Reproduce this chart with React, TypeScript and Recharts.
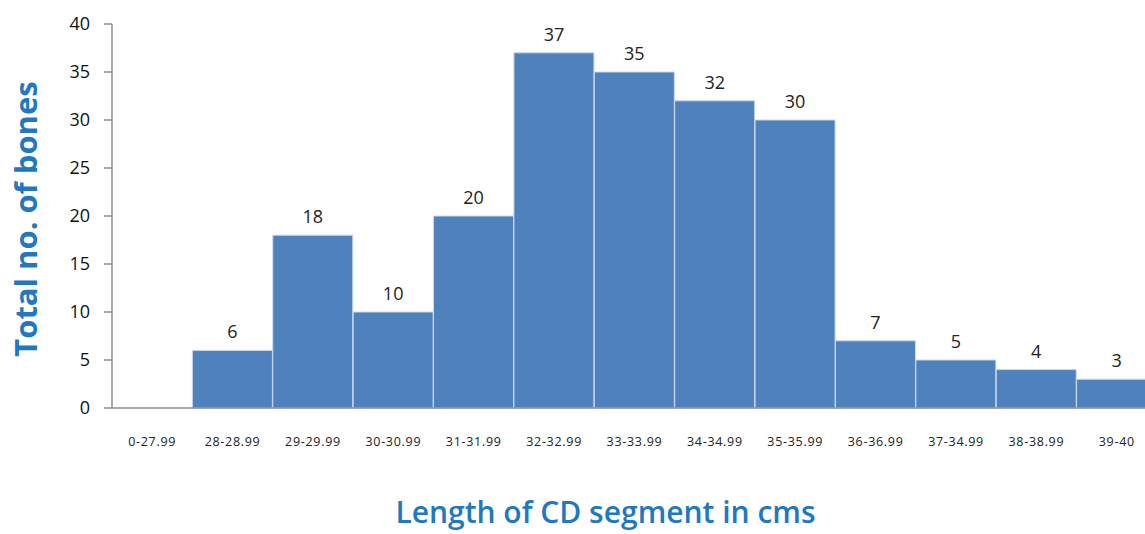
import { BarChart, Bar, XAxis, YAxis, LabelList, Label } from 'recharts';

// bone counts per CD segment length class
const lengthClasses = [
  '0-27.99', '28-28.99', '29-29.99', '30-30.99', '31-31.99', '32-32.99', '33-33.99',
  '34-34.99', '35-35.99', '36-36.99', '37-34.99', '38-38.99', '39-40',
];
const boneCounts = [0, 6, 18, 10, 20, 37, 35, 32, 30, 7, 5, 4, 3];
const yTicks = [0, 5, 10, 15, 20, 25, 30, 35, 40];

const data = lengthClasses.map((range, i) => ({ range, bones: boneCounts[i] }));

const FONT = '"Open Sans", "Noto Sans", sans-serif';
const BLUE = '#1f78c1';

export default function App() {
  return (
    <div style={{ position: 'fixed', left: 0, top: 0, width: 1145, height: 534, overflow: 'hidden', background: '#fff' }}>
      <BarChart
        width={1160}
        height={534}
        data={data}
        margin={{ top: 24, right: 3, bottom: 66, left: 0 }}
        barCategoryGap={0}
      >
        <XAxis
          dataKey="range"
          height={60}
          tickLine={false}
          tickMargin={23}
          interval={0}
          axisLine={{ stroke: '#8c8c8c', strokeWidth: 1.5 }}
          tick={{ fill: '#222', fontSize: 12.5, fontFamily: FONT, letterSpacing: 0.7 }}
        >
          <Label
            value="Length of CD segment in cms"
            position="center"
            dx={-29}
            dy={74}
            style={{ fill: BLUE, fontSize: 30, fontFamily: FONT, fontWeight: 600 }}
          />
        </XAxis>
        <YAxis
          width={112}
          domain={[0, 40]}
          ticks={yTicks}
          tickSize={8}
          tickMargin={14}
          axisLine={{ stroke: '#8c8c8c', strokeWidth: 1.5 }}
          tickLine={{ stroke: '#8c8c8c', strokeWidth: 1.5 }}
          tick={{ fill: '#111', fontSize: 18, fontFamily: FONT }}
        >
          <Label
            value="Total no. of bones"
            angle={-90}
            position="center"
            dx={-30}
            dy={3}
            style={{ fill: BLUE, fontSize: 31, fontFamily: FONT, fontWeight: 700, textAnchor: 'middle' }}
          />
        </YAxis>
        <Bar dataKey="bones" fill="#4f81bd" stroke="#c9d8ec" strokeWidth={1} isAnimationActive={false}>
          <LabelList
            dataKey="bones"
            position="top"
            offset={12}
            formatter={(v: number) => (v ? v : '')}
            style={{ fill: '#222', fontSize: 18, fontFamily: FONT }}
          />
        </Bar>
      </BarChart>
    </div>
  );
}
